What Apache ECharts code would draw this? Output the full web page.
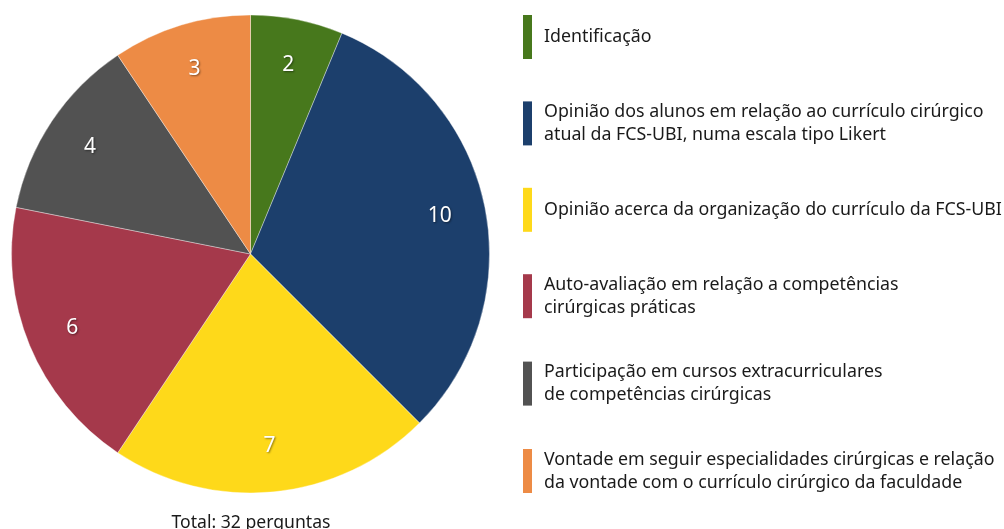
<!DOCTYPE html>
<html>
<head>
<meta charset="utf-8">
<script src="https://cdn.jsdelivr.net/npm/echarts@6/dist/echarts.min.js"></script>
<style>
  html, body { margin: 0; padding: 0; background: #fff; }
  #chart { width: 1004px; height: 529px; }
</style>
</head>
<body>
<div id="chart"></div>
<script>
var categories = [
  'Identificação',
  'Opinião dos alunos em relação ao currículo cirúrgico\natual da FCS-UBI, numa escala tipo Likert',
  'Opinião acerca da organização do currículo da FCS-UBI',
  'Auto-avaliação em relação a competências\ncirúrgicas práticas',
  'Participação em cursos extracurriculares\nde competências cirúrgicas',
  'Vontade em seguir especialidades cirúrgicas e relação\nda vontade com o currículo cirúrgico da faculdade'
];
var values = [2, 10, 7, 6, 4, 3];
var colors = ['#47781c', '#1c3f6c', '#fed91a', '#a5394b', '#525252', '#ed8b45'];
var caption = 'Total: 32 perguntas';

var font = 'Noto Sans';

function buildData(suffix) {
  return categories.map(function (name, i) {
    return { name: name + (suffix || ''), value: values[i], itemStyle: { color: colors[i] } };
  });
}

var chart = echarts.init(document.getElementById('chart'), null, { renderer: 'canvas' });

// same values, invisible slices: only used to put the numbers further out
var labelData = buildData(' ');
labelData.forEach(function (d) { d.itemStyle = { color: 'rgba(0,0,0,0)', borderWidth: 0 }; });

var option = {
  animation: false,
  color: colors,
  legend: {
    orient: 'vertical',
    left: 523,
    top: 15,
    padding: 0,
    itemWidth: 9,
    itemHeight: 44,
    itemGap: 41.4,
    icon: 'rect',
    selectedMode: false,
    itemStyle: { borderWidth: 0 },
    textStyle: {
      fontFamily: font,
      fontSize: 17.8,
      lineHeight: 23,
      color: '#1a1a1a',
      padding: [0, 0, 0, 7]
    },
    data: categories
  },
  graphic: [{
    type: 'text',
    x: 251,
    y: 514,
    style: {
      text: caption,
      font: '17.6px "' + font + '"',
      fill: '#1a1a1a',
      textAlign: 'center',
      textVerticalAlign: 'top'
    }
  }],
  series: [
    {
      type: 'pie',
      center: [250.5, 254],
      radius: 239,
      startAngle: 90,
      clockwise: true,
      silent: true,
      itemStyle: { borderColor: 'rgba(255,255,255,0.6)', borderWidth: 0.6 },
      label: { show: false },
      labelLine: { show: false },
      data: buildData()
    },
    {
      type: 'pie',
      center: [250.5, 254],
      radius: [141, 239],
      startAngle: 90,
      clockwise: true,
      silent: true,
      legendHoverLink: false,
      label: {
        show: true,
        position: 'inside',
        formatter: '{c}',
        fontFamily: font,
        fontSize: 21,
        color: '#fff',
        textBorderWidth: 0,
        textShadowColor: 'rgba(0,0,0,0.45)',
        textShadowBlur: 2,
        textShadowOffsetX: 1,
        textShadowOffsetY: 1
      },
      labelLine: { show: false },
      data: labelData
    }
  ]
};

chart.setOption(option);
</script>
</body>
</html>
